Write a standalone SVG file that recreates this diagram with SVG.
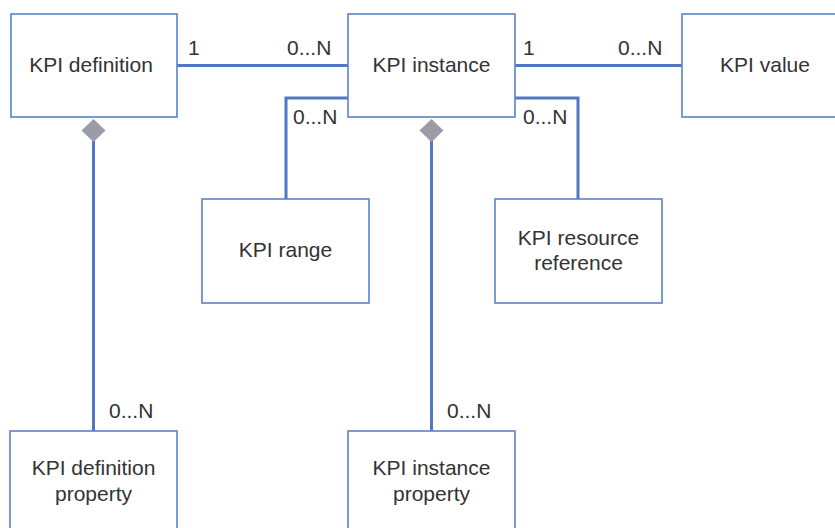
<svg xmlns="http://www.w3.org/2000/svg" width="835" height="528" viewBox="0 0 835 528">
<defs>
<style>
.box{fill:#ffffff;stroke:#5b84c8;stroke-width:1.6}
.conn{fill:none;stroke:#4e78c2;stroke-width:3}
.dia{fill:#9c9ca8;stroke:none}
text{font-family:"Liberation Sans",Arial,sans-serif;font-size:21px;fill:#333333}
.c{text-anchor:middle}
</style>
</defs>
<rect width="835" height="528" fill="#ffffff"/>
<g id="connectors">
<line class="conn" x1="177" y1="65.5" x2="348" y2="65.5"/>
<line class="conn" x1="515" y1="65.5" x2="682" y2="65.5"/>
<polyline class="conn" points="348,98 286,98 286,199"/>
<polyline class="conn" points="515,98 578,98 578,199"/>
<line class="conn" x1="93.5" y1="140" x2="93.5" y2="431"/>
<line class="conn" x1="431.5" y1="140" x2="431.5" y2="431"/>
<polygon class="dia" points="93.5,119 105.5,130.5 93.5,142 81.5,130.5"/>
<polygon class="dia" points="431.5,119 443.5,130.5 431.5,142 419.5,130.5"/>
<text x="188" y="55">1</text>
<text x="287" y="55">0...N</text>
<text x="523" y="55">1</text>
<text x="618" y="55">0...N</text>
<text x="293" y="124">0...N</text>
<text x="523" y="124">0...N</text>
<text x="109" y="418">0...N</text>
<text x="447" y="418">0...N</text>
</g>
<g id="kpi-definition">
<rect class="box" x="11" y="14" width="166" height="103"/>
<text class="c" x="91" y="72">KPI definition</text>
</g>
<g id="kpi-instance">
<rect class="box" x="348" y="14" width="167" height="103"/>
<text class="c" x="431.5" y="72">KPI instance</text>
</g>
<g id="kpi-value">
<rect class="box" x="682" y="14" width="170" height="103"/>
<text class="c" x="765" y="72">KPI value</text>
</g>
<g id="kpi-range">
<rect class="box" x="202" y="199" width="167" height="104"/>
<text class="c" x="285.5" y="257">KPI range</text>
</g>
<g id="kpi-resource-reference">
<rect class="box" x="495" y="199" width="167" height="104"/>
<text class="c" x="578.5" y="245">KPI resource</text>
<text class="c" x="578.5" y="270">reference</text>
</g>
<g id="kpi-definition-property">
<rect class="box" x="10" y="431" width="167" height="110"/>
<text class="c" x="93.5" y="475">KPI definition</text>
<text class="c" x="93.5" y="501">property</text>
</g>
<g id="kpi-instance-property">
<rect class="box" x="348" y="431" width="167" height="110"/>
<text class="c" x="431.5" y="475">KPI instance</text>
<text class="c" x="431.5" y="501">property</text>
</g>
</svg>
